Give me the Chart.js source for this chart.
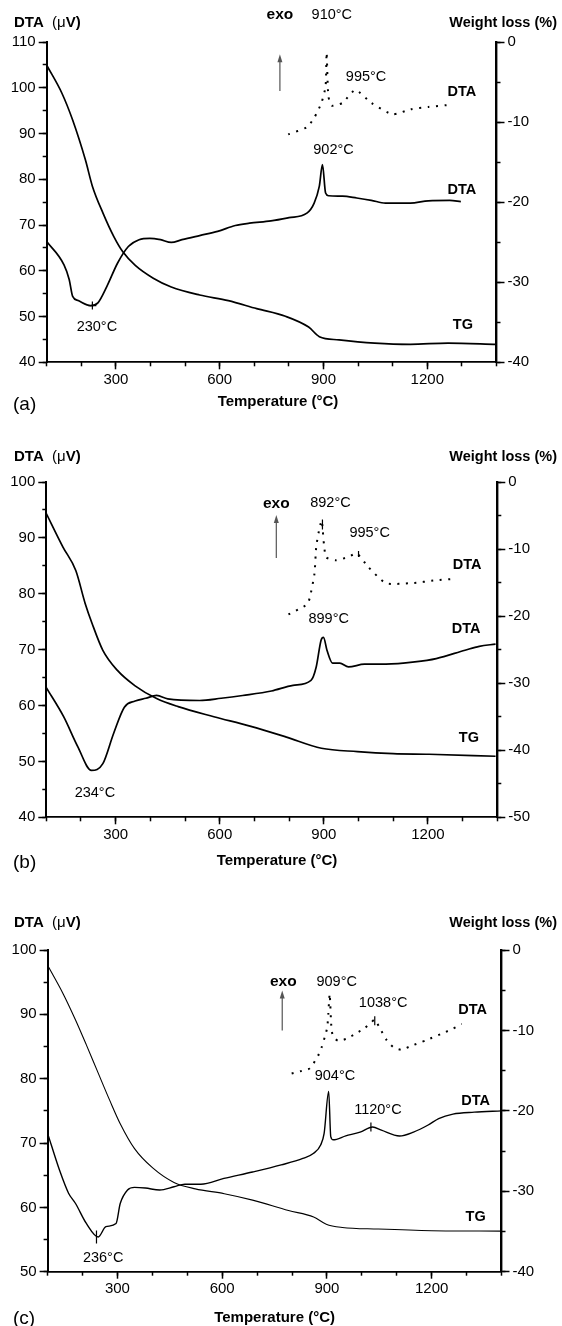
<!DOCTYPE html>
<html>
<head>
<meta charset="utf-8">
<script src="https://cdn.jsdelivr.net/npm/chart.js@4.4.0/dist/chart.umd.min.js"></script>
<style>
html, body { margin: 0; padding: 0; background: #fff; }
body { width: 562px; height: 1326px; position: relative; overflow: hidden; }
canvas { position: absolute; left: 0; }
</style>
</head>
<body>
<canvas id="chartA" style="top:0px"></canvas>
<canvas id="chartB" style="top:440px"></canvas>
<canvas id="chartC" style="top:880px"></canvas>
<script>
const FONT = '"Liberation Sans", Arial, Helvetica, sans-serif';

// temperature axis (shared)
const tempTicks = [300, 600, 900, 1200];
const tempMinorTicks = [100, 200, 300, 400, 500, 600, 700, 800, 900, 1000, 1100, 1200, 1300, 1400];

// ---- panel (a) ----
const dtaTicksA = [40, 50, 60, 70, 80, 90, 100, 110];
const wlTicksA = [0, -10, -20, -30, -40];
const aDtaT = [100, 150, 165, 175, 191, 227, 248, 274, 305, 336, 367, 398, 429, 460, 491, 542, 594, 645, 686, 748,
               800, 852, 873, 888, 897, 906, 915, 955, 996, 1038, 1079, 1151, 1203, 1265, 1297];
const aDta  = [66.4, 61.3, 58.1, 54.4, 53.5, 52.4, 53.0, 56.6, 61.7, 65.3, 66.8, 67.1, 66.8, 66.2, 66.8, 67.7, 68.6, 69.9, 70.4, 70.9,
               71.6, 72.6, 74.8, 78.5, 83.2, 77.0, 76.4, 76.3, 75.9, 75.4, 74.8, 74.8, 75.3, 75.4, 75.1];
const aTgT = [100, 144, 175, 212, 232, 263, 294, 320, 356, 408, 460, 542, 625, 707, 790, 857, 888, 945, 1048, 1151, 1260, 1400];
const aTg  = [-2.9, -6.4, -9.75, -14.75, -18.0, -21.4, -24.3, -26.2, -27.9, -29.5, -30.6, -31.6, -32.3, -33.3, -34.25, -35.6,
              -36.8, -37.2, -37.6, -37.75, -37.6, -37.75];
const aInsetT = [798, 852, 873, 894, 906, 909, 914, 924, 955, 992, 1038, 1100, 1152, 1203, 1270];
const aInset  = [89.8, 91.4, 93.4, 96.7, 100.3, 107.7, 98.2, 96.1, 96.7, 99.5, 96.7, 94.2, 95.3, 95.8, 96.3];
const aMarkT = [232];
const aMarkV = [52.4];

// ---- panel (b) ----
const dtaTicksB = [40, 50, 60, 70, 80, 90, 100];
const wlTicksB = [0, -10, -20, -30, -40, -50];
const bDtaT = [100, 150, 191, 230, 263, 294, 325, 356, 387, 418, 450, 542, 604, 666, 749, 811, 863, 878, 892, 899,
               909, 925, 946, 971, 1017, 1079, 1162, 1224, 1307, 1348, 1395];
const bDta  = [63.2, 58.0, 52.6, 48.4, 49.6, 55.0, 59.7, 60.8, 61.3, 61.8, 61.2, 60.9, 61.3, 61.8, 62.6, 63.6, 64.5, 66.9, 71.7, 72.2,
               69.9, 67.6, 67.6, 66.9, 67.4, 67.4, 67.8, 68.4, 69.9, 70.6, 71.0];
const bTgT = [100, 148, 185, 212, 232, 263, 305, 356, 418, 480, 583, 687, 790, 893, 997, 1100, 1203, 1395];
const bTg  = [-4.7, -9.7, -13.2, -18.1, -21.1, -25.1, -28.1, -30.4, -32.3, -33.5, -35.0, -36.4, -38.0, -39.7, -40.2, -40.5, -40.6, -40.9];
const bInsetT = [798, 826, 852, 860, 873, 878, 888, 894, 906, 935, 971, 995, 1028, 1079, 1152, 1222, 1281];
const bInset  = [76.3, 77.2, 78.1, 79.4, 83.6, 88.4, 91.9, 93.1, 86.6, 86.0, 86.6, 87.2, 84.8, 81.9, 81.9, 82.4, 82.7];
const bMarkT = [896, 1000];
const bMarkV = [92.4, 87.1];

// ---- panel (c) ----
const dtaTicksC = [50, 60, 70, 80, 90, 100];
const wlTicksC = [0, -10, -20, -30, -40];
const cDtaT = [100, 134, 160, 180, 211, 245, 267, 296, 308, 329, 349, 380, 421, 462, 493, 539, 605, 687, 769, 831,
               862, 882, 892, 905, 911, 918, 954, 995, 1031, 1056, 1108, 1148, 1190, 1220, 1261, 1322, 1400];
const cDta  = [71.5, 65.8, 62.2, 60.6, 57.5, 55.4, 57.0, 57.5, 60.6, 62.7, 63.1, 63.0, 62.7, 63.2, 63.6, 63.6, 64.5, 65.5, 66.6, 67.6,
               68.4, 69.7, 71.5, 78.0, 71.0, 70.5, 71.1, 71.7, 72.5, 72.0, 71.1, 71.7, 72.8, 73.8, 74.5, 74.8, 75.0];
const cTgT = [100, 144, 180, 211, 242, 278, 308, 349, 401, 462, 523, 606, 687, 790, 862, 898, 944, 1047, 1200, 1400];
const cTg  = [-1.9, -5.4, -8.7, -11.8, -15.0, -18.7, -21.6, -24.7, -27.1, -28.9, -29.7, -30.3, -31.1, -32.4, -33.2, -34.1, -34.5,
              -34.7, -34.9, -34.95];
const cInsetT = [799, 827, 851, 875, 885, 894, 901, 904, 906, 908, 913, 918, 932, 956, 985, 1009, 1028, 1037, 1052, 1071,
                 1090, 1114, 1137, 1185, 1233, 1262, 1286];
const cInset  = [80.8, 81.2, 81.6, 83.6, 84.9, 86.5, 88.0, 90.1, 91.9, 93.2, 87.8, 86.5, 85.9, 86.2, 87.1, 87.9, 88.8, 89.2, 87.8, 86.0,
                 84.9, 84.5, 85.0, 86.0, 87.1, 87.8, 88.5];
const cMarkT = [240, 1037, 1026];
const cMarkV = [55.4, 89.0, 72.5];

function pts(xs, ys) {
    return xs.map((x, i) => ({ x: x, y: ys[i] }));
}

function every5(lo, hi) {
    const out = [];
    for (let v = lo; v <= hi; v += 5) out.push(v);
    return out;
}

function textPlugin(cfg) {
    return {
        id: 'panelText',
        afterDraw(chart) {
            const ctx = chart.ctx;
            const xs = chart.scales.x, ys = chart.scales.y;
            ctx.save();
            ctx.fillStyle = '#000';
            ctx.textBaseline = 'middle';

            // peak / curve labels
            cfg.notes.forEach(n => {
                ctx.font = (n.bold ? 'bold ' : '') + n.size + 'px ' + FONT;
                ctx.textAlign = 'center';
                ctx.fillText(n.text, xs.getPixelForValue(n.t), ys.getPixelForValue(n.v));
            });

            // exo arrow
            const ax = xs.getPixelForValue(cfg.arrow.t);
            const yb = ys.getPixelForValue(cfg.arrow.v0);
            const yt = ys.getPixelForValue(cfg.arrow.v1);
            ctx.strokeStyle = '#555';
            ctx.fillStyle = '#555';
            ctx.lineWidth = 1.2;
            ctx.beginPath();
            ctx.moveTo(ax, yb);
            ctx.lineTo(ax, yt + 5);
            ctx.stroke();
            ctx.beginPath();
            ctx.moveTo(ax, yt);
            ctx.lineTo(ax - 2.5, yt + 8);
            ctx.lineTo(ax + 2.5, yt + 8);
            ctx.closePath();
            ctx.fill();

            // axis titles
            const t = cfg.titles;
            ctx.fillStyle = '#000';
            ctx.textAlign = 'left';
            let x = t.dtaX;
            [['DTA  ', 'bold '], ['(\u03bc', ''], ['V)', 'bold ']].forEach(seg => {
                ctx.font = seg[1] + '15px ' + FONT;
                ctx.fillText(seg[0], x, t.topY);
                x += ctx.measureText(seg[0]).width;
            });
            ctx.font = 'bold 14.5px ' + FONT;
            ctx.textAlign = 'right';
            ctx.fillText('Weight loss (%)', t.wlRight, t.topY);
            ctx.font = 'bold 15px ' + FONT;
            ctx.textAlign = 'center';
            ctx.fillText('Temperature (\u00b0C)', t.tempX, t.bottomY);
            ctx.font = '19px ' + FONT;
            ctx.textAlign = 'left';
            ctx.fillText(cfg.tag, t.tagX, t.tagY);
            ctx.restore();
        }
    };
}

function makePanel(id, cfg) {
    const el = document.getElementById(id);
    const W = 562, H = cfg.height, a = cfg.area;
    el.width = W; el.height = H;
    el.style.width = W + 'px'; el.style.height = H + 'px';
    const tickFont = { family: FONT, size: 15 };
    const label = v => String(v);
    const setTicks = list => s => { s.ticks = list.map(v => ({ value: v })); };

    new Chart(el, {
        type: 'line',
        data: {
            datasets: [
                { label: 'DTA', data: pts(cfg.dtaT, cfg.dta), yAxisID: 'y', borderColor: '#000',
                  borderWidth: cfg.lw[0], pointRadius: 0, cubicInterpolationMode: 'monotone', borderJoinStyle: 'round' },
                { label: 'TG', data: pts(cfg.tgT, cfg.tg), yAxisID: 'y2', borderColor: '#000',
                  borderWidth: cfg.lw[1], pointRadius: 0, cubicInterpolationMode: 'monotone', borderJoinStyle: 'round' },
                { label: 'DTA (inset)', data: pts(cfg.insetT, cfg.inset), yAxisID: 'y', borderColor: '#000',
                  borderWidth: 2, borderDash: [2, 6.5], pointRadius: 0, tension: 0.2 },
                { label: 'marks', data: pts(cfg.markT, cfg.markV), yAxisID: 'y', showLine: false,
                  pointStyle: cfg.markStyle, pointRadius: cfg.markR, pointRotation: cfg.markRot,
                  pointBorderColor: '#000', pointBackgroundColor: '#000', pointBorderWidth: 1.2 }
            ]
        },
        options: {
            responsive: false,
            animation: false,
            events: [],
            layout: { padding: { left: 0, right: 0, top: a.top, bottom: 0 } },
            plugins: { legend: { display: false }, tooltip: { enabled: false } },
            scales: {
                x: {
                    type: 'linear', position: 'bottom', min: 100, max: 1400, weight: 1,
                    afterBuildTicks: setTicks(tempTicks),
                    afterFit: s => { s.height = H - a.bottom; },
                    grid: { drawOnChartArea: false, tickLength: 7, tickWidth: 1.5, tickColor: '#000' },
                    border: { display: true, color: '#000', width: 1.8 },
                    ticks: { font: tickFont, color: '#000', padding: 1.5, maxRotation: 0, autoSkip: false, callback: label }
                },
                xMinor: {
                    type: 'linear', axis: 'x', position: 'bottom', min: 100, max: 1400, weight: 0,
                    afterBuildTicks: setTicks(tempMinorTicks),
                    afterFit: s => { s.height = 0; },
                    grid: { drawOnChartArea: false, tickLength: 4, tickWidth: 1.5, tickColor: '#000' },
                    border: { display: false },
                    ticks: { display: false }
                },
                y: {
                    type: 'linear', position: 'left', min: cfg.yMin, max: cfg.yMax, weight: 1,
                    afterBuildTicks: setTicks(cfg.dtaTicks),
                    afterFit: s => { s.width = a.left; },
                    grid: { drawOnChartArea: false, tickLength: 8, tickWidth: 1.5, tickColor: '#000' },
                    border: { display: true, color: '#000', width: 2 },
                    ticks: { font: tickFont, color: '#000', padding: 3, callback: label }
                },
                yMinor: {
                    type: 'linear', axis: 'y', position: 'left', min: cfg.yMin, max: cfg.yMax, weight: 0,
                    afterBuildTicks: setTicks(every5(cfg.yMin, cfg.yMax)),
                    afterFit: s => { s.width = 0; },
                    grid: { drawOnChartArea: false, tickLength: 4, tickWidth: 1.5, tickColor: '#000' },
                    border: { display: false },
                    ticks: { display: false }
                },
                y2: {
                    type: 'linear', position: 'right', min: cfg.wMin, max: 0, weight: 1,
                    afterBuildTicks: setTicks(cfg.wlTicks),
                    afterFit: s => { s.width = W - a.right; },
                    grid: { drawOnChartArea: false, tickLength: 8, tickWidth: 1.5, tickColor: '#000' },
                    border: { display: true, color: '#000', width: 2.4 },
                    ticks: { font: tickFont, color: '#000', padding: 3, callback: label }
                },
                y2Minor: {
                    type: 'linear', axis: 'y', position: 'right', min: cfg.wMin, max: 0, weight: 0,
                    afterBuildTicks: setTicks(every5(cfg.wMin, 0)),
                    afterFit: s => { s.width = 0; },
                    grid: { drawOnChartArea: false, tickLength: 4, tickWidth: 1.5, tickColor: '#000' },
                    border: { display: false },
                    ticks: { display: false }
                }
            }
        },
        plugins: [textPlugin(cfg)]
    });
}

const lbl = (text, t, v, bold, size) => ({ text: text, t: t, v: v, bold: !!bold, size: size || 14.5 });

makePanel('chartA', {
    height: 440, area: { left: 46.7, right: 496.5, top: 42, bottom: 362.3 },
    yMin: 40, yMax: 110, wMin: -40, dtaTicks: dtaTicksA, wlTicks: wlTicksA,
    dtaT: aDtaT, dta: aDta, tgT: aTgT, tg: aTg, insetT: aInsetT, inset: aInset, lw: [1.7, 1.7],
    markT: aMarkT, markV: aMarkV, markStyle: ['cross'], markR: [4], markRot: [0],
    notes: [
        lbl('exo', 774, 116.0, true, 15.5), lbl('910\u00b0C', 924, 116.0), lbl('995\u00b0C', 1023, 102.3),
        lbl('DTA', 1300, 99.0, true), lbl('902\u00b0C', 929, 86.5), lbl('DTA', 1300, 77.7, true),
        lbl('230\u00b0C', 245, 47.7), lbl('TG', 1303, 48.2, true)
    ],
    arrow: { t: 774, v0: 99.3, v1: 107.3 },
    tag: '(a)',
    titles: { dtaX: 14, topY: 22.5, wlRight: 557, tempX: 278, bottomY: 402, tagX: 13, tagY: 405 }
});

makePanel('chartB', {
    height: 440, area: { left: 46.3, right: 497.3, top: 42, bottom: 377.3 },
    yMin: 40, yMax: 100, wMin: -50, dtaTicks: dtaTicksB, wlTicks: wlTicksB,
    dtaT: bDtaT, dta: bDta, tgT: bTgT, tg: bTg, insetT: bInsetT, inset: bInset, lw: [1.7, 1.7],
    markT: bMarkT, markV: bMarkV, markStyle: ['line', 'line'], markR: [5, 3], markRot: [90, 90],
    notes: [
        lbl('exo', 763, 96.2, true, 15.5), lbl('892\u00b0C', 919, 96.2), lbl('995\u00b0C', 1032, 90.9),
        lbl('DTA', 1313, 85.1, true), lbl('899\u00b0C', 914, 75.5), lbl('DTA', 1310, 73.7, true),
        lbl('TG', 1318, 54.2, true), lbl('234\u00b0C', 240, 44.3)
    ],
    arrow: { t: 763, v0: 86.4, v1: 94.1 },
    tag: '(b)',
    titles: { dtaX: 14, topY: 16.7, wlRight: 557, tempX: 277, bottomY: 421, tagX: 13, tagY: 423 }
});

makePanel('chartC', {
    height: 446, area: { left: 47.6, right: 501.5, top: 70, bottom: 391.7 },
    yMin: 50, yMax: 100, wMin: -40, dtaTicks: dtaTicksC, wlTicks: wlTicksC,
    dtaT: cDtaT, dta: cDta, tgT: cTgT, tg: cTg, insetT: cInsetT, inset: cInset, lw: [1.4, 1.1],
    markT: cMarkT, markV: cMarkV, markStyle: ['line', 'line', 'line'], markR: [6.5, 4.5, 4.5], markRot: [90, 90, 90],
    notes: [
        lbl('exo', 775, 95.0, true, 15.5), lbl('909\u00b0C', 928, 95.0), lbl('1038\u00b0C', 1061, 91.7),
        lbl('DTA', 1317, 90.7, true), lbl('904\u00b0C', 923, 80.4), lbl('1120\u00b0C', 1046, 75.1),
        lbl('DTA', 1326, 76.6, true), lbl('TG', 1326, 58.5, true), lbl('236\u00b0C', 259, 52.2)
    ],
    arrow: { t: 772, v0: 87.5, v1: 93.7 },
    tag: '(c)',
    titles: { dtaX: 14, topY: 43.3, wlRight: 557, tempX: 274.6, bottomY: 438.3, tagX: 13, tagY: 438.3 }
});
</script>
</body>
</html>
